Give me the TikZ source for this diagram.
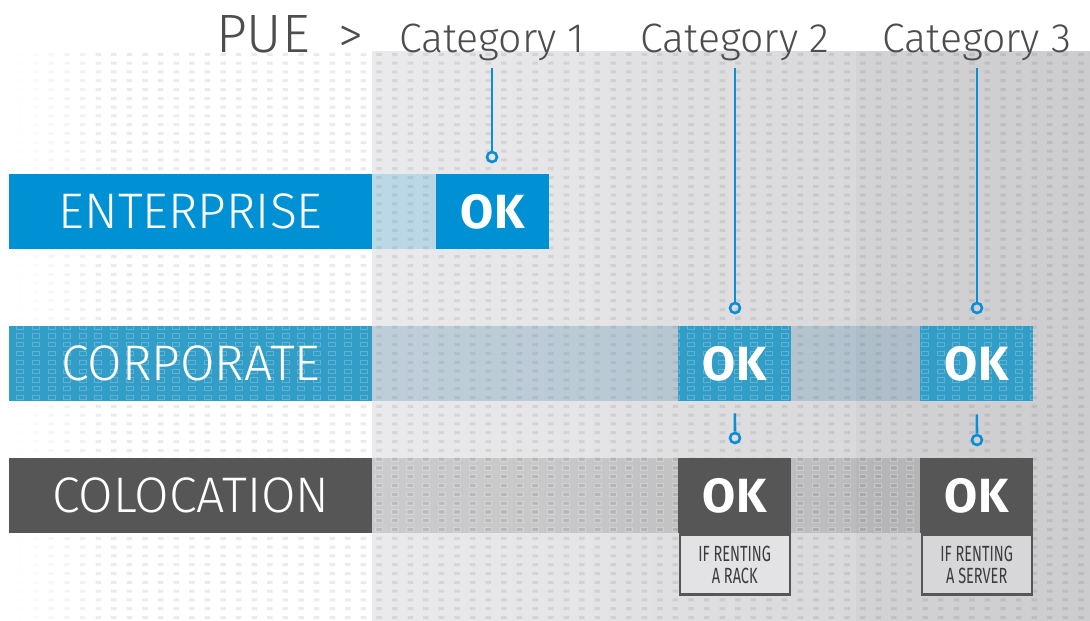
\documentclass[tikz,border=0pt]{standalone}
\usepackage{fontspec}
\setmainfont{Fira Sans Light}[BoldFont=Fira Sans Bold]
\newfontfamily\narrowfont{Fira Sans}[FakeStretch=0.66]
\usetikzlibrary{positioning}

\definecolor{entblue}{RGB}{0,145,213}
\definecolor{corpblue}{RGB}{50,157,199}
\definecolor{colgray}{RGB}{86,86,86}
\definecolor{pinblue}{RGB}{10,142,214}
\definecolor{titlegray}{RGB}{77,77,77}
\definecolor{notetext}{RGB}{60,60,60}
\definecolor{bandblue}{RGB}{91,143,176}

% hollow cells over a region: x1,y1,x2,y2,first row,last row
\newcommand\hollowcells[6]{%
  \begin{scope}
    \clip (#1,#2) rectangle (#3,#4);
    \pgfmathtruncatemacro\ifirst{max(0,(#1-25)/15.6)}
    \pgfmathtruncatemacro\ilast{min(69,(#3-10)/15.6+1)}
    \draw[white,draw opacity=0.22,line width=0.8pt]
      \foreach \i in {\ifirst,...,\ilast} {\foreach \j in {#5,...,#6} {
        (16.7+15.6*\i,52.2+8.8*\j) rectangle ++(7,4.2)}};
  \end{scope}}

\begin{document}
\begin{tikzpicture}[x=1pt,y=-1pt,
    bar/.style={anchor=north west,inner sep=0pt,minimum width=363pt,minimum height=75pt,
      text=white,font=\fontsize{50}{50}\selectfont},
    okbox/.style={anchor=north west,inner sep=0pt,minimum width=113pt,minimum height=75pt,
      text=white,font=\bfseries\fontsize{48}{48}\selectfont},
    notebox/.style={inner sep=0pt,minimum width=110pt,minimum height=60pt,draw=colgray,
      line width=2.4pt,text=notetext,align=center,font=\narrowfont\fontsize{22}{22}\selectfont},
    cattext/.style={anchor=base,inner sep=0pt,text=titlegray,font=\fontsize{41}{41}\selectfont},
    pinline/.style={draw=pinblue,line width=2.6pt},
    pindot/.style={circle,draw=pinblue,line width=2.6pt,minimum size=10pt,inner sep=0pt},
  ]
\useasboundingbox (0,0) rectangle (1090,621);
\fill[white] (0,0) rectangle (1090,621);

% column backgrounds
\shade[left color={rgb,255:red,234;green,234;blue,236},right color={rgb,255:red,228;green,228;blue,230}]
  (372,51) rectangle (613,621);
\shade[left color={rgb,255:red,226;green,226;blue,228},right color={rgb,255:red,217;green,217;blue,219}]
  (613,51) rectangle (856,621);
\shade[left color={rgb,255:red,211;green,211;blue,213},right color={rgb,255:red,205;green,205;blue,207}]
  (856,51) rectangle (1090,621);

% dash pattern, fading out to the left
\foreach \i in {0,...,69} {
  \pgfmathsetmacro\op{min(1,max(0,(\i*15.6+8)/100))*0.08}
  \fill[black,fill opacity=\op]
    \foreach \j in {0,...,64} {(17.5+15.6*\i,52.8+8.8*\j) rectangle ++(5.5,3)};
}

% title
\node[anchor=base west,inner sep=0pt,text=titlegray,font=\fontsize{54}{54}\selectfont] (pue) at (216,52) {PUE};
\node[anchor=base west,inner sep=0pt,text=titlegray,font=\fontsize{50}{50}\selectfont] (gt) at (338,52) {>};
\node[cattext] (cat1) at (492,52) {Category 1};
\node[cattext] (cat2) at (735,52) {Category 2};
\node[cattext] (cat3) at (977,52) {Category 3};

% bands behind the rows
\fill[entblue,fill opacity=0.2] (372,174) rectangle (436,249);
\fill[bandblue,fill opacity=0.3] (372,326) rectangle (1033,401);
\fill[black,fill opacity=0.13] (372,458) rectangle (1033,533);
\hollowcells{372}{458}{1033}{533}{46}{54}

% rows
\node[bar,fill=entblue] (ent) at (9,174) {ENTERPRISE};
\node[bar,fill=corpblue] (corp) at (9,326) {CORPORATE};
\node[bar,fill=colgray] (colo) at (9,458) {COLOCATION};

\node[okbox,fill=entblue] (oke1) at (436,174) {OK};
\node[okbox,fill=corpblue] (okp2) at (678,326) {OK};
\node[okbox,fill=corpblue] (okp3) at (920,326) {OK};
\node[okbox,fill=colgray] (okc2) at (678,458) {OK};
\node[okbox,fill=colgray] (okc3) at (920,458) {OK};

\hollowcells{9}{326}{372}{401}{31}{39}
\hollowcells{678}{326}{791}{401}{31}{39}
\hollowcells{920}{326}{1033}{401}{31}{39}

\node[notebox,fill={rgb,255:red,227;green,227;blue,229},below=0pt of okc2] (note2) {IF RENTING\\A RACK};
\node[notebox,fill={rgb,255:red,215;green,215;blue,217},below=0pt of okc3] (note3) {IF RENTING\\A SERVER};

% pins
\node[pindot] (pin1) at (492,157) {};
\node[pindot] (pin2) at (735,308) {};
\node[pindot] (pin3) at (977,308) {};
\node[pindot] (pin4) at (735,438) {};
\node[pindot] (pin5) at (977,440) {};
\draw[pinline,shorten <=7pt] (cat1.south) -- (pin1.north);
\draw[pinline,shorten <=7pt] (cat2.south) -- (pin2.north);
\draw[pinline,shorten <=7pt] (cat3.south) -- (pin3.north);
\draw[pinline,shorten <=12pt] (okp2.south) -- (pin4.north);
\draw[pinline,shorten <=13pt] (okp3.south) -- (pin5.north);
\end{tikzpicture}
\end{document}
